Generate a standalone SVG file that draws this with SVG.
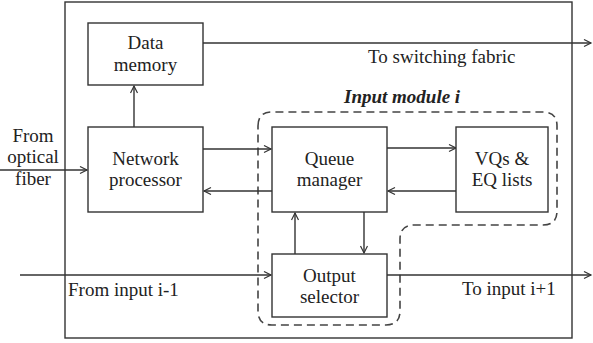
<svg xmlns="http://www.w3.org/2000/svg" width="593" height="343" viewBox="0 0 593 343">
<defs>
<marker id="arr" markerWidth="10" markerHeight="10" refX="8" refY="4" orient="auto" markerUnits="userSpaceOnUse">
<path d="M1,0.5 L8,4 L1,7.5" fill="none" stroke="#333" stroke-width="1.2"/>
</marker>
</defs>
<style>
.box{fill:#fff;stroke:#333;stroke-width:1.4}
.ln{fill:none;stroke:#333;stroke-width:1.4}
.c{text-anchor:middle}
.dash{fill:none;stroke:#444;stroke-width:1.6;stroke-dasharray:8,5}
</style>
<rect id="outer" x="65" y="2" width="507" height="336" fill="none" stroke="#333" stroke-width="1.4"/>
<path id="module" class="dash" d="M258,126 Q258,112 272,112 H543 Q557,112 557,126 V211 Q557,225 543,225 H414 Q400,225 400,239 V311 Q400,325 386,325 H272 Q258,325 258,311 Z"/>
<text x="344" y="103" font-family="Liberation Serif" font-size="19" fill="#222" font-weight="bold" font-style="italic">Input module i</text>
<g id="connectors">
<path class="ln" d="M203,43 H591" marker-end="url(#arr)"/>
<path class="ln" d="M134,127 V86" marker-end="url(#arr)"/>
<path class="ln" d="M0,170 H87" marker-end="url(#arr)"/>
<path class="ln" d="M203,149 H271" marker-end="url(#arr)"/>
<path class="ln" d="M272,191 H204" marker-end="url(#arr)"/>
<path class="ln" d="M387,148 H456" marker-end="url(#arr)"/>
<path class="ln" d="M456,191 H388" marker-end="url(#arr)"/>
<path class="ln" d="M295,254 V213" marker-end="url(#arr)"/>
<path class="ln" d="M364,212 V253" marker-end="url(#arr)"/>
<path class="ln" d="M20,275 H271" marker-end="url(#arr)"/>
<path class="ln" d="M387,275 H591" marker-end="url(#arr)"/>
</g>
<g id="data-memory">
<rect class="box" x="88" y="23" width="115" height="62"/>
<text class="c" x="145.5" y="49" font-family="Liberation Serif" font-size="19" fill="#222">Data</text>
<text class="c" x="145.5" y="71" font-family="Liberation Serif" font-size="19" fill="#222">memory</text>
</g>
<g id="network-processor">
<rect class="box" x="88" y="127" width="115" height="85"/>
<text class="c" x="145.5" y="165" font-family="Liberation Serif" font-size="19" fill="#222">Network</text>
<text class="c" x="145.5" y="186" font-family="Liberation Serif" font-size="19" fill="#222">processor</text>
</g>
<g id="queue-manager">
<rect class="box" x="272" y="127" width="115" height="85"/>
<text class="c" x="329.5" y="165" font-family="Liberation Serif" font-size="19" fill="#222">Queue</text>
<text class="c" x="329.5" y="186" font-family="Liberation Serif" font-size="19" fill="#222">manager</text>
</g>
<g id="vqs">
<rect class="box" x="456" y="127" width="92" height="85"/>
<text class="c" x="502" y="165" font-family="Liberation Serif" font-size="19" fill="#222">VQs &amp;</text>
<text class="c" x="502" y="186" font-family="Liberation Serif" font-size="19" fill="#222">EQ lists</text>
</g>
<g id="output-selector">
<rect class="box" x="272" y="254" width="115" height="63"/>
<text class="c" x="329.5" y="282" font-family="Liberation Serif" font-size="19" fill="#222">Output</text>
<text class="c" x="329.5" y="303" font-family="Liberation Serif" font-size="19" fill="#222">selector</text>
</g>
<g id="labels">
<text class="c" x="33" y="142" font-family="Liberation Serif" font-size="19" fill="#222">From</text>
<text class="c" x="33" y="163" font-family="Liberation Serif" font-size="19" fill="#222">optical</text>
<text class="c" x="33" y="185" font-family="Liberation Serif" font-size="19" fill="#222">fiber</text>
<text x="368" y="63" font-family="Liberation Serif" font-size="19" fill="#222">To switching fabric</text>
<text x="68" y="296" font-family="Liberation Serif" font-size="19" fill="#222">From input i-1</text>
<text x="462" y="295" font-family="Liberation Serif" font-size="19" fill="#222">To input i+1</text>
</g>
</svg>
